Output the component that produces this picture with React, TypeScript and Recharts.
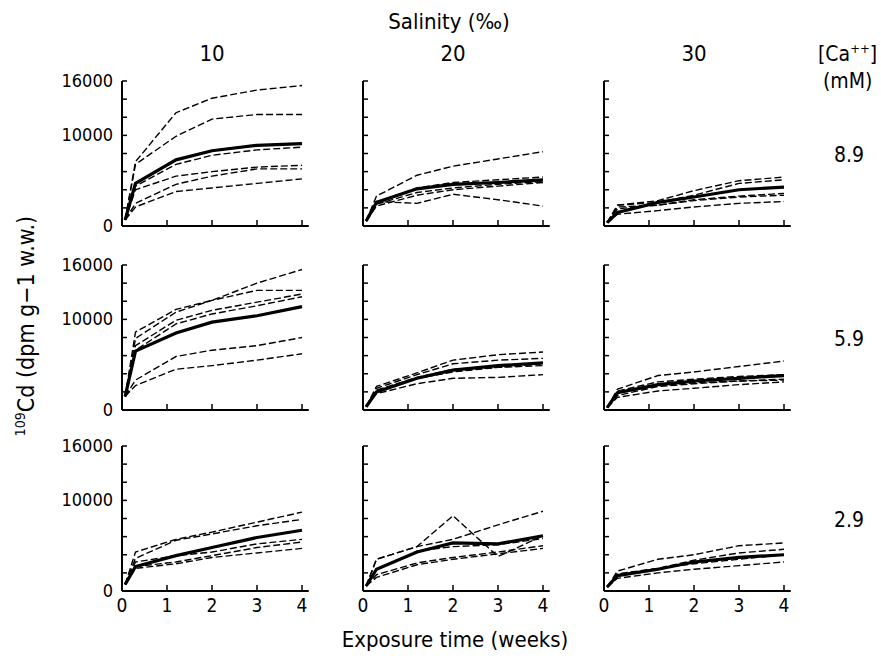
import { Line, LineChart, XAxis, YAxis } from "recharts";

const FONT = "'DejaVu Sans Condensed', 'DejaVu Sans', sans-serif";

// sampling times (weeks) and axis ticks
const weeks = [0.07, 0.3, 1.2, 2, 3, 4];
const weekTicks = [0, 1, 2, 3, 4];
const cdTicks = [0, 2000, 4000, 6000, 8000, 10000, 12000, 14000, 16000];
const cdLabels = [0, 10000, 16000];
const salinity = ["10", "20", "30"];
const calcium = ["8.9", "5.9", "2.9"];

// salinity 10, Ca 8.9 mM
const s10c89Mean = [670, 4700, 7300, 8300, 8900, 9100];
const s10c89Runs = [
  [670, 7100, 12500, 14100, 15000, 15500],
  [670, 6800, 9900, 11800, 12300, 12300],
  [670, 4400, 6800, 7800, 8400, 8700],
  [670, 4000, 5500, 6000, 6500, 6700],
  [670, 2500, 4600, 5500, 6300, 6300],
  [670, 2100, 3800, 4200, 4700, 5200],
];
// salinity 20, Ca 8.9 mM
const s20c89Mean = [550, 2600, 4100, 4600, 4800, 5100];
const s20c89Runs = [
  [550, 3300, 5600, 6600, 7400, 8200],
  [550, 2600, 4200, 4800, 5100, 5400],
  [550, 2400, 3700, 4200, 4600, 4900],
  [550, 2200, 3400, 4000, 4400, 4800],
  [550, 2700, 2500, 3500, 2900, 2200],
];
// salinity 30, Ca 8.9 mM
const s30c89Mean = [370, 1500, 2600, 3200, 4000, 4300];
const s30c89Runs = [
  [370, 2300, 2800, 3900, 5000, 5400],
  [370, 2300, 2600, 3400, 4700, 5100],
  [370, 2100, 2300, 2900, 3300, 3600],
  [370, 1900, 2300, 2800, 3200, 3400],
  [370, 1300, 1700, 2100, 2500, 2700],
];
// salinity 10, Ca 5.9 mM
const s10c59Mean = [1500, 6500, 8500, 9700, 10400, 11400];
const s10c59Runs = [
  [1500, 8600, 11100, 12100, 14000, 15500],
  [1500, 7900, 10800, 12100, 13200, 13200],
  [1500, 7100, 9900, 11000, 11900, 12800],
  [1500, 6600, 9500, 10600, 11500, 12500],
  [1500, 3300, 5900, 6600, 7100, 8000],
  [1500, 2700, 4500, 4900, 5500, 6200],
];
// salinity 20, Ca 5.9 mM
const s20c59Mean = [360, 2000, 3500, 4400, 4900, 5200];
const s20c59Runs = [
  [360, 2600, 4100, 5500, 6100, 6400],
  [360, 2400, 3900, 5100, 5500, 5700],
  [360, 2200, 3600, 4500, 4700, 5100],
  [360, 2000, 3500, 4200, 4700, 4900],
  [360, 1800, 2900, 3500, 3600, 3900],
];
// salinity 30, Ca 5.9 mM
const s30c59Mean = [260, 1900, 2800, 3200, 3500, 3800];
const s30c59Runs = [
  [260, 2300, 3800, 4200, 4800, 5400],
  [260, 2100, 3100, 3400, 3700, 3900],
  [260, 1900, 2700, 3000, 3200, 3400],
  [260, 1600, 2600, 2900, 3200, 3300],
  [260, 1400, 2100, 2400, 2800, 3100],
];
// salinity 10, Ca 2.9 mM
const s10c29Mean = [730, 2700, 3900, 4800, 5900, 6700];
const s10c29Runs = [
  [730, 4300, 5700, 6500, 7600, 8700],
  [730, 3600, 5600, 6300, 7200, 7900],
  [730, 3200, 3900, 4300, 5200, 5700],
  [730, 2700, 3200, 3900, 4800, 5400],
  [730, 2500, 3000, 3700, 4200, 4700],
];
// salinity 20, Ca 2.9 mM
const s20c29Mean = [550, 2400, 4300, 5300, 5200, 6100];
const s20c29Runs = [
  [550, 3500, 4900, 8300, 3800, 6100],
  [550, 3500, 4900, 5700, 7300, 8800],
  [550, 2400, 4400, 4900, 5100, 5800],
  [550, 1800, 3100, 3700, 4300, 5000],
  [550, 1500, 2900, 3500, 4100, 4700],
];
// salinity 30, Ca 2.9 mM
const s30c29Mean = [440, 1700, 2400, 3200, 3700, 4000];
const s30c29Runs = [
  [440, 2200, 3500, 4000, 5000, 5300],
  [440, 1900, 2500, 3400, 4200, 4600],
  [440, 1700, 2500, 3000, 3500, 4000],
  [440, 1400, 2000, 2400, 2800, 3200],
];

const panels = [
  { row: 0, col: 0, mean: s10c89Mean, runs: s10c89Runs },
  { row: 0, col: 1, mean: s20c89Mean, runs: s20c89Runs },
  { row: 0, col: 2, mean: s30c89Mean, runs: s30c89Runs },
  { row: 1, col: 0, mean: s10c59Mean, runs: s10c59Runs },
  { row: 1, col: 1, mean: s20c59Mean, runs: s20c59Runs },
  { row: 1, col: 2, mean: s30c59Mean, runs: s30c59Runs },
  { row: 2, col: 0, mean: s10c29Mean, runs: s10c29Runs },
  { row: 2, col: 1, mean: s20c29Mean, runs: s20c29Runs },
  { row: 2, col: 2, mean: s30c29Mean, runs: s30c29Runs },
];

// page position of each panel's origin (week 0, 0 dpm)
const colX = [122, 363, 604];
const rowY = [226, 410, 591];
const PX_WEEK = 45;
const PLOT_H = 145;
const X_MAX = 4.15;
const Y_AXIS_W = 60;
const X_AXIS_H = 34;
const TOP = 14;
const RIGHT = 8;

function XTick(props: any) {
  const { x, y, payload, showLabel } = props;
  return (
    <g>
      <line x1={x} x2={x} y1={y} y2={y - 6} stroke="#000" strokeWidth={1.5} />
      {showLabel && (
        <text x={x} y={y + 21} textAnchor="middle" fontSize={19} fontFamily={FONT} fill="#000">
          {payload.value}
        </text>
      )}
    </g>
  );
}

function YTick(props: any) {
  const { x, y, payload, showLabel } = props;
  const labelled = showLabel && cdLabels.includes(payload.value);
  return (
    <g>
      <line x1={x} x2={x + 5} y1={y} y2={y} stroke="#000" strokeWidth={1.5} />
      {labelled && (
        <text x={x - 9} y={y + 6} textAnchor="end" fontSize={18} fontFamily={FONT} fill="#000">
          {payload.value}
        </text>
      )}
    </g>
  );
}

function Panel({ row, col, mean, runs }: { row: number; col: number; mean: number[]; runs: number[][] }) {
  const data = weeks.map((w, i) => {
    const point: Record<string, number> = { week: w, mean: mean[i] };
    runs.forEach((r, k) => {
      point["r" + k] = r[i];
    });
    return point;
  });
  const plotW = X_MAX * PX_WEEK;
  const width = Y_AXIS_W + plotW + RIGHT;
  const height = TOP + PLOT_H + X_AXIS_H;

  return (
    <div style={{ position: "absolute", left: colX[col] - Y_AXIS_W, top: rowY[row] - PLOT_H - TOP }}>
      <LineChart width={width} height={height} data={data} margin={{ top: TOP, right: RIGHT, bottom: 0, left: 0 }}>
        <XAxis
          type="number"
          dataKey="week"
          domain={[0, X_MAX]}
          ticks={weekTicks}
          interval={0}
          height={X_AXIS_H}
          axisLine={{ stroke: "#000", strokeWidth: 2 }}
          tickLine={false}
          tickSize={0}
          tickMargin={0}
          tick={<XTick showLabel={row === 2} />}
        />
        <YAxis
          type="number"
          domain={[0, 16000]}
          ticks={cdTicks}
          interval={0}
          width={Y_AXIS_W}
          axisLine={{ stroke: "#000", strokeWidth: 2 }}
          tickLine={false}
          tickSize={0}
          tickMargin={0}
          tick={<YTick showLabel={col === 0} />}
        />
        {runs.map((_, k) => (
          <Line
            key={k}
            dataKey={"r" + k}
            stroke="#000"
            strokeWidth={1.4}
            strokeDasharray="7 3"
            dot={false}
            isAnimationActive={false}
          />
        ))}
        <Line dataKey="mean" stroke="#000" strokeWidth={3.2} dot={false} isAnimationActive={false} />
      </LineChart>
    </div>
  );
}

export default function App() {
  return (
    <div style={{ position: "absolute", left: 0, top: 0, width: 881, height: 660, background: "#fff", fontFamily: FONT }}>
      {panels.map((p) => (
        <Panel key={`${p.row}-${p.col}`} {...p} />
      ))}
      <svg width={881} height={660} style={{ position: "absolute", left: 0, top: 0, pointerEvents: "none" }}>
        <g fontFamily={FONT} fill="#000">
          <text x={449} y={29} textAnchor="middle" fontSize={22}>
            Salinity (‰)
          </text>
          {salinity.map((s, i) => (
            <text key={s} x={colX[i] + 90} y={61} textAnchor="middle" fontSize={22}>
              {s}
            </text>
          ))}
          <text x={818} y={61} fontSize={21}>
            [Ca<tspan dy={-8} fontSize={13}>++</tspan>
            <tspan dy={8}>]</tspan>
          </text>
          <text x={823} y={88} fontSize={21}>
            (mM)
          </text>
          {calcium.map((c, i) => (
            <text key={c} x={834} y={rowY[i] - 64} fontSize={21}>
              {c}
            </text>
          ))}
          <text transform="translate(34 326) rotate(-90)" textAnchor="middle" fontSize={23}>
            <tspan dy={-9} fontSize={14}>109</tspan>
            <tspan dy={9}>Cd (dpm g−1 w.w.)</tspan>
          </text>
          <text x={455} y={647} textAnchor="middle" fontSize={22}>
            Exposure time (weeks)
          </text>
        </g>
      </svg>
    </div>
  );
}
